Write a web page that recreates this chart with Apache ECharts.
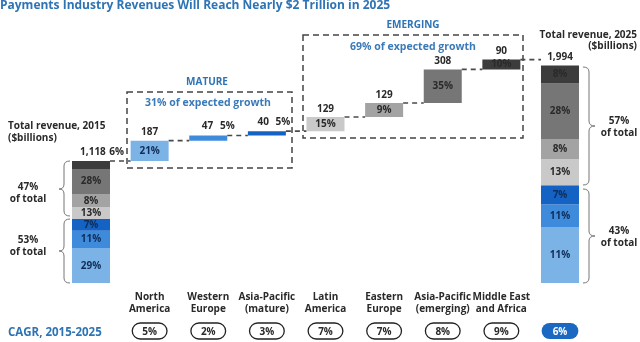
<!DOCTYPE html>
<html>
<head>
<meta charset="utf-8">
<script src="https://cdn.jsdelivr.net/npm/echarts@6/dist/echarts.min.js"></script>
<style>
html,body{margin:0;padding:0;background:#fff;}
#chart{width:640px;height:342px;}
</style>
</head>
<body>
<div id="chart"></div>
<script>
// ---- data ----
const categories = ['', 'North\nAmerica', 'Western\nEurope', 'Asia-Pacific\n(mature)', 'Latin\nAmerica', 'Eastern\nEurope', 'Asia-Pacific\n(emerging)', 'Middle East\nand Africa', ''];
const total2015 = 1118;
const total2025 = 1994;
const regionGrowth = [187, 47, 40, 129, 129, 308, 90];
const regionGrowthShare = ['21%', '5%', '5%', '15%', '9%', '35%', '10%'];
// 2015 bar segments (bottom to top), $billions
const seg2015 = [317, 162, 108, 108, 117, 234, 72];
const seg2015Labels = ['29%', '11%', '7%', '13%', '8%', '28%', '6%'];
// 2025 bar segments (bottom to top)
const seg2025 = [508, 212, 175, 240, 185, 508, 166];
const seg2025Labels = ['11%', '11%', '7%', '13%', '8%', '28%', '8%'];
const cagrLabels = ['', '5%', '2%', '3%', '7%', '7%', '8%', '9%', '6%'];

// ---- styling ----
const FONT = "'Open Sans', 'DejaVu Sans', sans-serif";
const W = 'bold';
const colors = ['#7cb3e6', '#3f8bdb', '#1462c4', '#c9c9c9', '#a3a3a3', '#767676', '#3c3c3c'];
const BLUE = '#2e74b5';
const DARK = '#2a2a2a';
const BAR_W = 38;

// waterfall bases
const bases = [];
let run = total2015;
regionGrowth.forEach(g => { bases.push(run); run += g; });
const connectors = [[0, total2015]];
regionGrowth.forEach((g, k) => connectors.push([k + 1, bases[k] + g]));

const series = [];
series.push({
  name: 'base', type: 'bar', stack: 'a', barWidth: BAR_W, silent: true,
  itemStyle: { color: 'transparent' },
  data: ['-'].concat(bases).concat(['-'])
});
for (let k = 0; k < 7; k++) {
  const data = categories.map(() => '-');
  data[0] = seg2015[k];
  data[k + 1] = regionGrowth[k];
  data[8] = seg2025[k];
  series.push({
    name: 's' + k, type: 'bar', stack: 'a', barWidth: BAR_W,
    itemStyle: { color: colors[k] },
    label: {
      show: true, position: 'inside', fontFamily: FONT, fontSize: 10, fontWeight: W,
      color: k < 3 ? '#0f2d57' : DARK,
      formatter: p => {
        const i = p.dataIndex;
        if (i === 0) return k === 6 ? '' : seg2015Labels[k];
        if (i === 8) return seg2025Labels[k];
        return (k === 1 || k === 2) ? '' : regionGrowthShare[k];
      }
    },
    data: data
  });
}
// top value labels
const topTexts = [];
topTexts.push('{v|' + total2015.toLocaleString('en-US') + '} {p|' + seg2015Labels[6] + '}');
regionGrowth.forEach((g, k) => {
  topTexts.push((k === 1 || k === 2) ? '{v|' + g + '}  {p|' + regionGrowthShare[k] + '}' : '{v|' + g + '}');
});
topTexts.push('{v|' + total2025.toLocaleString('en-US') + '}');
const topOffsets = { 0: [11, 0], 2: [10, 0], 3: [7, 0] };
series.push({
  name: 'tops', type: 'bar', stack: 'a', barWidth: BAR_W, silent: true,
  itemStyle: { color: 'transparent' },
  data: topTexts.map((t, i) => ({
    value: 0,
    label: { offset: topOffsets[i] || [0, 0] }
  })),
  label: {
    show: true, position: 'top', distance: 3,
    formatter: p => topTexts[p.dataIndex],
    rich: {
      v: { fontFamily: FONT, fontSize: 10, fontWeight: W, color: DARK },
      p: { fontFamily: FONT, fontSize: 10, fontWeight: W, color: DARK }
    }
  }
});
series.push({
  name: 'connectors', type: 'custom', silent: true, z: 1,
  encode: { x: 0, y: 1 },
  data: connectors,
  renderItem: (params, api) => {
    const i = api.value(0), v = api.value(1);
    const a = api.coord([i, v]);
    const b = api.coord([i + 1, v]);
    return {
      type: 'line',
      shape: { x1: a[0] + BAR_W / 2, y1: a[1], x2: b[0] - BAR_W / 2, y2: b[1] },
      style: { stroke: '#4a4a4a', lineWidth: 1.6, lineDash: [5, 4] }
    };
  }
});

const braceStyle = { stroke: '#777', fill: 'none', lineWidth: 1 };
function brace(xe, xl, xt, y1, ym, y2) {
  const r = 5;
  const bz = (x1, y1_, cx, cy, x2, y2_) => ({ type: 'bezierCurve', silent: true, shape: { x1: x1, y1: y1_, cpx1: cx, cpy1: cy, x2: x2, y2: y2_ }, style: braceStyle });
  const ln = (x1, y1_, x2, y2_) => ({ type: 'line', silent: true, shape: { x1: x1, y1: y1_, x2: x2, y2: y2_ }, style: braceStyle });
  return [
    bz(xe, y1, xl, y1, xl, y1 + r),
    ln(xl, y1 + r, xl, ym - r),
    bz(xl, ym - r, xl, ym, xt, ym),
    bz(xt, ym, xl, ym, xl, ym + r),
    ln(xl, ym + r, xl, y2 - r),
    bz(xl, y2 - r, xl, y2, xe, y2)
  ];
}
const txt = (text, x, y, opts) => ({
  type: 'text', x: x, y: y, silent: true,
  style: Object.assign({ text: text, fontFamily: FONT, fontSize: 10, fontWeight: W, fill: DARK, lineHeight: 12 }, opts || {})
});
const boxStyle = { stroke: '#444', fill: 'none', lineWidth: 1.5, lineDash: [6, 4] };

const option = {
  animation: false,
  backgroundColor: '#fff',
  title: {
    text: 'Payments Industry Revenues Will Reach Nearly $2 Trillion in 2025',
    left: 0, top: 0, padding: 0,
    textStyle: { fontFamily: FONT, fontSize: 12, fontWeight: 'bold', color: BLUE }
  },
  grid: { left: 61.7, right: 50.7, top: 43, bottom: 59 },
  xAxis: [{
    type: 'category', data: categories,
    axisLine: { show: false }, axisTick: { show: false },
    axisLabel: { interval: 0, margin: 8, fontFamily: FONT, fontSize: 10, fontWeight: W, color: DARK, lineHeight: 12 }
  }, {
    type: 'category', data: cagrLabels, position: 'bottom', offset: 33,
    axisLine: { show: false }, axisTick: { show: false },
    axisLabel: {
      interval: 0, margin: 7,
      formatter: (v, i) => i === 8 ? '{t|' + v + '}' : (v ? '{c|' + v + '}' : ''),
      rich: {
        c: { fontFamily: FONT, fontSize: 10, fontWeight: W, color: DARK, borderColor: '#222', borderWidth: 1.3, borderRadius: 10, padding: [4, 10, 2, 10] },
        t: { fontFamily: FONT, fontSize: 10, fontWeight: 'bold', color: '#fff', backgroundColor: '#1a68c2', borderRadius: 10, padding: [4, 11, 2, 11] }
      }
    }
  }],
  yAxis: { type: 'value', min: 0, max: 2200, show: false },
  series: series,
  graphic: [
    { type: 'rect', shape: { x: 127, y: 92, width: 165, height: 76 }, style: boxStyle, silent: true },
    { type: 'rect', shape: { x: 303, y: 35, width: 220, height: 103 }, style: boxStyle, silent: true },
    txt('MATURE', 207, 82, { fill: BLUE, align: 'center', verticalAlign: 'middle' }),
    txt('31% of expected growth', 208, 103, { fill: '#3a7ab9', align: 'center', verticalAlign: 'middle', fontSize: 10.5 }),
    txt('EMERGING', 413, 25, { fill: BLUE, align: 'center', verticalAlign: 'middle' }),
    txt('69% of expected growth', 413, 47, { fill: '#3a7ab9', align: 'center', verticalAlign: 'middle', fontSize: 10.5 }),
    txt('Total revenue, 2015\n($billions)', 8, 120, { verticalAlign: 'top' }),
    txt('Total revenue, 2025\n($billions)', 637, 30, { align: 'right', verticalAlign: 'top', lineHeight: 11 }),
    txt('47%\nof total', 28, 181, { align: 'center', verticalAlign: 'top' }),
    txt('53%\nof total', 28, 234, { align: 'center', verticalAlign: 'top' }),
    txt('57%\nof total', 619, 115, { align: 'center', verticalAlign: 'top' }),
    txt('43%\nof total', 619, 225, { align: 'center', verticalAlign: 'top' }),
    txt('CAGR, 2015-2025', 8, 333, { fill: BLUE, verticalAlign: 'middle', fontSize: 11.5 })
  ].concat(brace(70, 64, 59, 161, 189, 216))
   .concat(brace(70, 64, 59, 219, 251, 283))
   .concat(brace(583, 589, 595, 67, 126, 185))
   .concat(brace(583, 589, 595, 189, 236, 283))
};
const chart = echarts.init(document.getElementById('chart'), null, { renderer: 'canvas' });
chart.setOption(option);
</script>
</body>
</html>
